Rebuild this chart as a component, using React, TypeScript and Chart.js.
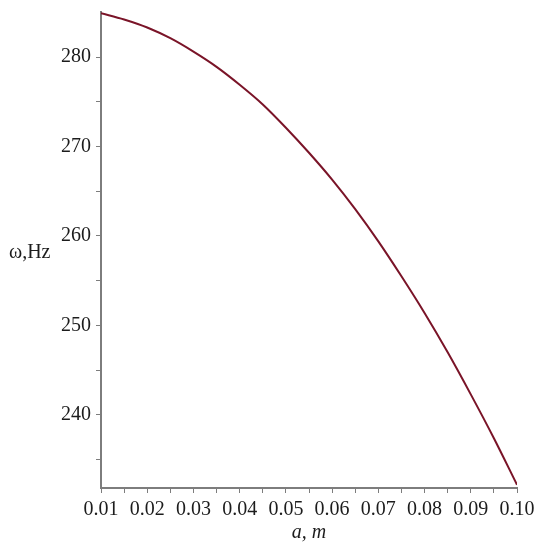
import { useEffect, useRef } from "react"
import { Chart, registerables, type ChartConfiguration, type Plugin } from "chart.js"

Chart.register(...registerables)

// a, m
const aValues = [
  0.01, 0.015, 0.02, 0.025, 0.03, 0.035, 0.04, 0.045, 0.05, 0.055,
  0.06, 0.065, 0.07, 0.075, 0.08, 0.085, 0.09, 0.095, 0.1,
]
// ω, Hz
const omegaValues = [
  284.9, 284.2, 283.3, 282.1, 280.6, 278.9, 276.9, 274.7, 272.1, 269.3,
  266.3, 263.0, 259.4, 255.5, 251.4, 247.0, 242.3, 237.4, 232.2,
]

const xMajorTicks = [0.01, 0.02, 0.03, 0.04, 0.05, 0.06, 0.07, 0.08, 0.09, 0.1]
const xMinorTicks = [0.015, 0.025, 0.035, 0.045, 0.055, 0.065, 0.075, 0.085, 0.095]
const yMajorTicks = [240, 250, 260, 270, 280]
const yMinorTicks = [235, 245, 255, 265, 275]

const axisColor = "#7d7d7d"
const textColor = "#1c1c1c"
const serif = '"Liberation Serif", "Times New Roman", serif'

const isMajor = (v: number, majors: number[]) => majors.some((m) => Math.abs(m - v) < 1e-9)

// horizontal y-axis title, like the original plot
const yTitlePlugin: Plugin = {
  id: "yTitle",
  afterDraw(chart) {
    const { ctx, chartArea } = chart
    ctx.save()
    ctx.font = `20px ${serif}`
    ctx.fillStyle = textColor
    ctx.textAlign = "left"
    ctx.textBaseline = "middle"
    ctx.fillText("ω,Hz", 9, (chartArea.top + chartArea.bottom) / 2 + 3)
    ctx.restore()
  },
}

export default function App() {
  const chartRef = useRef<HTMLCanvasElement>(null)
  const chartInstance = useRef<Chart | null>(null)

  useEffect(() => {
    if (!chartRef.current) return
    const ctx = chartRef.current.getContext("2d")
    if (!ctx) return

    if (chartInstance.current) {
      chartInstance.current.destroy()
    }

    const config: ChartConfiguration<"line"> = {
      type: "line",
      data: {
        datasets: [
          {
            label: "omega",
            data: aValues.map((a, i) => ({ x: a, y: omegaValues[i] })),
            borderColor: "#7a1428",
            borderWidth: 2,
            pointRadius: 0,
            cubicInterpolationMode: "monotone",
            fill: false,
          },
        ],
      },
      options: {
        animation: false,
        responsive: true,
        maintainAspectRatio: false,
        layout: { padding: { top: 12, right: 24, bottom: 7, left: 0 } },
        plugins: {
          legend: { display: false },
          tooltip: { enabled: false },
        },
        scales: {
          x: {
            type: "linear",
            min: 0.01,
            max: 0.1,
            afterBuildTicks: (scale) => {
              scale.ticks = [...xMajorTicks, ...xMinorTicks].sort((p, q) => p - q).map((value) => ({ value }))
            },
            ticks: {
              autoSkip: false,
              maxRotation: 0,
              padding: 5,
              color: textColor,
              font: { family: serif, size: 20 },
              callback: (v) => (isMajor(Number(v), xMajorTicks) ? Number(v).toFixed(2) : ""),
            },
            grid: {
              drawOnChartArea: false,
              tickLength: 5,
              tickColor: axisColor,
              color: axisColor,
            },
            border: { color: axisColor, width: 2 },
            title: {
              display: true,
              text: "a, m",
              color: textColor,
              padding: { top: -4, bottom: 0 },
              font: { family: serif, size: 20, style: "italic", lineHeight: 1 },
            },
          },
          y: {
            min: 231.84,
            max: 285.03,
            afterFit: (scale) => {
              scale.width = 101
              scale.paddingTop = 0
              scale.paddingBottom = 0
            },
            afterBuildTicks: (scale) => {
              scale.ticks = [...yMinorTicks, ...yMajorTicks].sort((p, q) => p - q).map((value) => ({ value }))
            },
            ticks: {
              autoSkip: false,
              padding: 5,
              color: textColor,
              font: { family: serif, size: 20 },
              callback: (v) => (isMajor(Number(v), yMajorTicks) ? String(v) : ""),
            },
            grid: {
              drawOnChartArea: false,
              tickLength: 5,
              tickColor: axisColor,
              color: axisColor,
            },
            border: { color: axisColor, width: 2 },
          },
        },
      },
      plugins: [yTitlePlugin],
    }

    chartInstance.current = new Chart(ctx, config)

    return () => {
      if (chartInstance.current) {
        chartInstance.current.destroy()
        chartInstance.current = null
      }
    }
  }, [])

  return (
    <div style={{ position: "absolute", left: 0, top: 0, width: 541, height: 550, background: "#fff" }}>
      <canvas ref={chartRef} />
    </div>
  )
}
